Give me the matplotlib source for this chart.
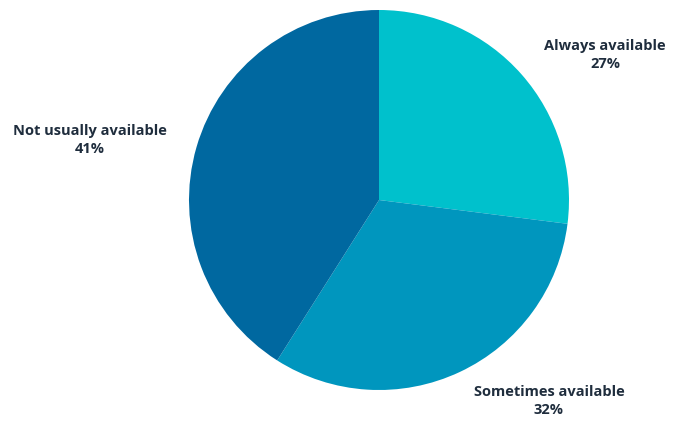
import matplotlib.pyplot as plt

# availability shares
categories = ["Always available", "Sometimes available", "Not usually available"]
shares = [27, 32, 41]
colors = ["#00C1CC", "#0096BE", "#0068A0"]

fig = plt.figure(figsize=(6.75, 4.21), dpi=100)
ax = fig.add_axes([0, 0, 1, 1])
ax.set_xlim(0, 675)
ax.set_ylim(0, 421)
ax.set_aspect("equal")

ax.pie(shares, colors=colors, startangle=90, counterclock=False,
       center=(379, 221), radius=190, frame=True,
       wedgeprops={"linewidth": 0})
ax.axis("off")

# label positions (pixel coords, y from bottom)
label_pos = [(605, 366), (549, 20), (90, 281)]
for name, val, (x, y) in zip(categories, shares, label_pos):
    ax.text(x, y, f"{name}\n{val}%", ha="center", va="center",
            fontsize=10.5, fontweight="bold", color="#1F2D3D",
            family="Open Sans", linespacing=1.3)

fig.savefig("out.png", dpi=100)
